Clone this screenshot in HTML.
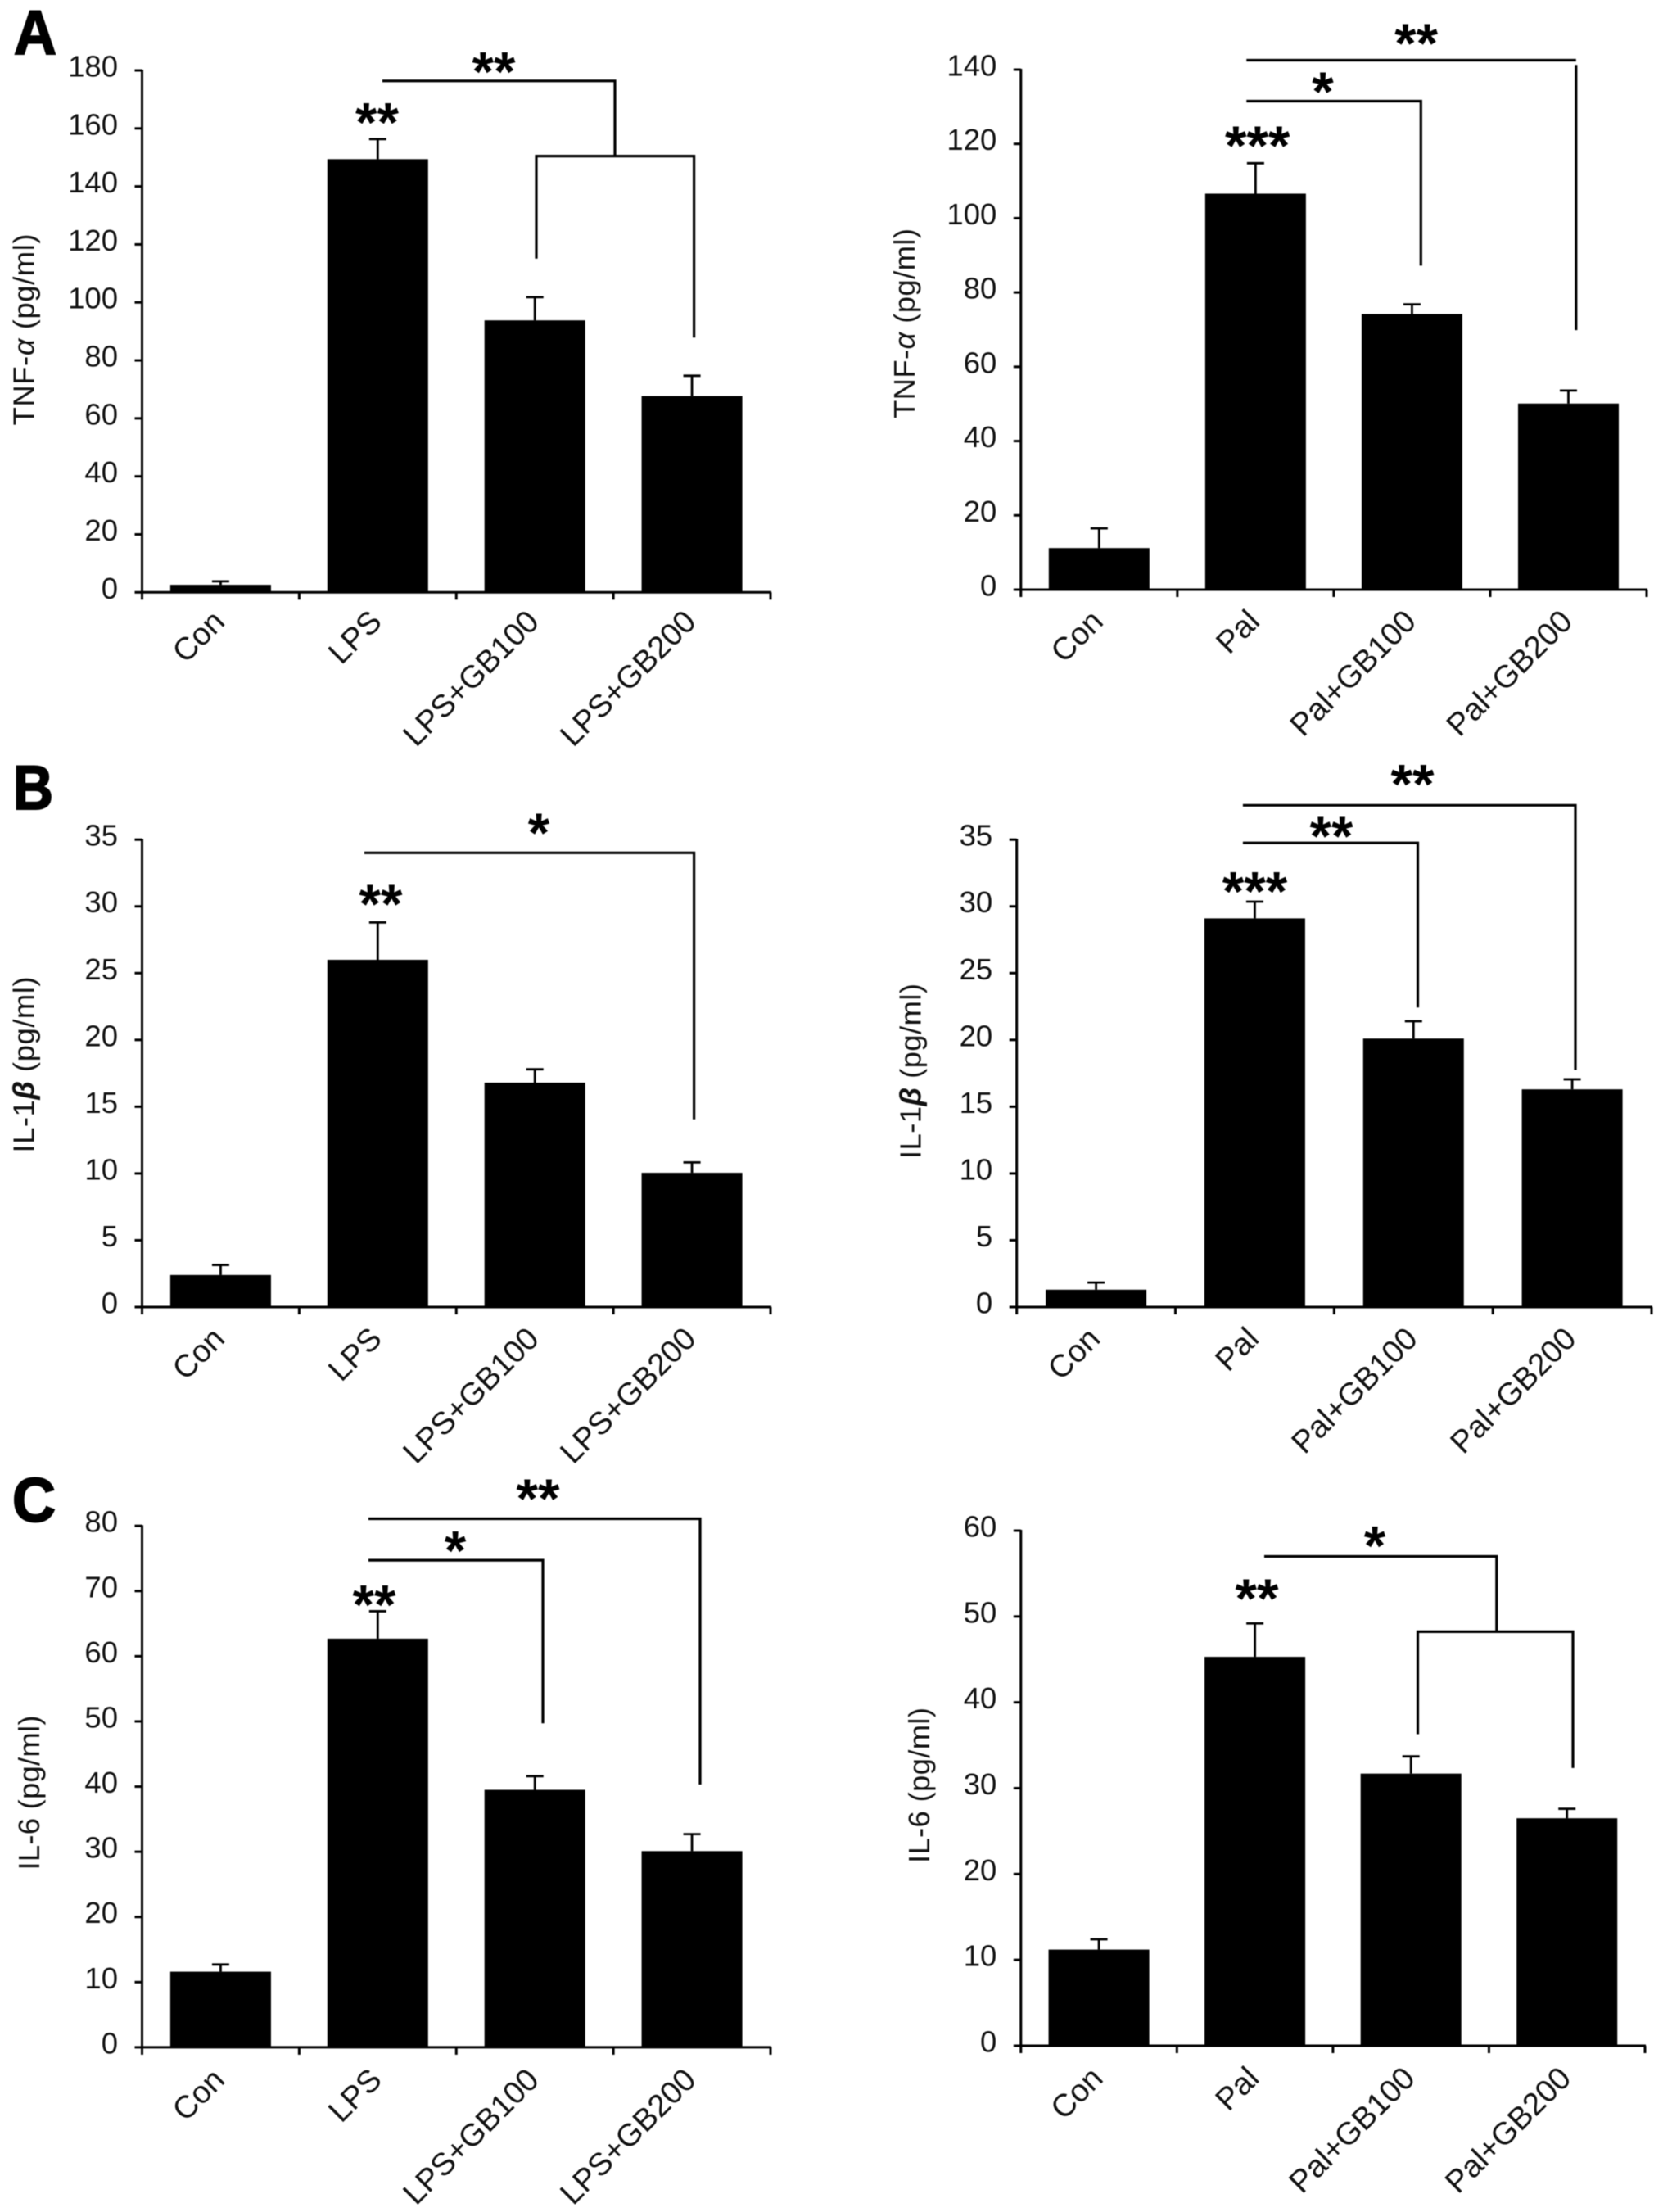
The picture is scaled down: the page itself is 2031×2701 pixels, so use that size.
<!DOCTYPE html>
<html>
<head>
<meta charset="utf-8">
<title>Cytokine levels bar charts</title>
<style>
html,body{margin:0;padding:0;background:#fff;width:2031px;height:2701px;overflow:hidden}
svg{display:block;filter:blur(.6px)}
text{font-family:"Liberation Sans",sans-serif;fill:#111}
.tick{font-size:36.500px}
.xlabel{font-size:38.500px}
.title{font-size:36.500px}
.stars{font-size:68px;font-weight:bold;text-anchor:middle;fill:#000}
.letter{font-size:76px;font-weight:bold;fill:#000;stroke:#000;stroke-width:2px}
.br{fill:none;stroke:#000;stroke-width:3.200}
</style>
</head>
<body>
<svg id="figure" xmlns="http://www.w3.org/2000/svg" width="2031" height="2701" viewBox="0 0 2031 2701">
  <rect width="2031" height="2701" fill="#fff"/>
  <text class="letter" x="17" y="66" textLength="52" lengthAdjust="spacingAndGlyphs">A</text>
  <text class="letter" x="16" y="988" textLength="49" lengthAdjust="spacingAndGlyphs">B</text>
  <text class="letter" x="15" y="1858" textLength="53" lengthAdjust="spacingAndGlyphs">C</text>

  <g id="charts"></g>

  <g>
    <path class="br" d="M467 98.800H751V190.600"/>
    <path class="br" d="M655 315.800V190.600H847.600V412.300"/>
    <text class="stars" x="603" y="110.500">**</text>
    <text class="stars" x="460.500" y="172.500">**</text>
  </g>
  <g>
    <path class="br" d="M1522.300 73.500H1924.800M1924.800 79.200V403.100"/>
    <path class="br" d="M1522.300 123.500H1735.300V324.400"/>
    <text class="stars" x="1729.600" y="76">**</text>
    <text class="stars" x="1615.500" y="135.200">*</text>
    <text class="stars" x="1535.700" y="200.800">***</text>
  </g>
  <g>
    <path class="br" d="M445 1041.300H847.600V1366.800"/>
    <text class="stars" x="658" y="1039.800">*</text>
    <text class="stars" x="465" y="1127.100">**</text>
  </g>
  <g>
    <path class="br" d="M1517.900 983.300H1924V1306.500"/>
    <path class="br" d="M1517.900 1029.200H1731.500V1230.200"/>
    <text class="stars" x="1725" y="980.700">**</text>
    <text class="stars" x="1626" y="1043.800">**</text>
    <text class="stars" x="1532.500" y="1111.600">***</text>
  </g>
  <g>
    <path class="br" d="M450 1854.500H855V2179"/>
    <path class="br" d="M450 1905.100H663V2104.300"/>
    <text class="stars" x="657" y="1853">**</text>
    <text class="stars" x="556" y="1916.300">*</text>
    <text class="stars" x="457" y="1982.300">**</text>
  </g>
  <g>
    <path class="br" d="M1544 1900.500H1827.800V1991.800"/>
    <path class="br" d="M1731.500 2117.500V1992.400H1921V2158.900"/>
    <text class="stars" x="1679" y="1910.500">*</text>
    <text class="stars" x="1535" y="1974.800">**</text>
  </g>
</svg>
<script>
// Categories
var lpsCategories = ["Con", "LPS", "LPS+GB100", "LPS+GB200"];
var palCategories = ["Con", "Pal", "Pal+GB100", "Pal+GB200"];

// Tick labels
var ticksTnfLps = [0, 20, 40, 60, 80, 100, 120, 140, 160, 180];
var ticksTnfPal = [0, 20, 40, 60, 80, 100, 120, 140];
var ticksIl1 = [0, 5, 10, 15, 20, 25, 30, 35];
var ticksIl6Lps = [0, 10, 20, 30, 40, 50, 60, 70, 80];
var ticksIl6Pal = [0, 10, 20, 30, 40, 50, 60];

// Series values (means) and error-bar heights, pg/ml
var tnfLpsMeans = [2.6, 149.4, 93.8, 67.7];
var tnfLpsErrors = [1.2, 6.9, 8.0, 7.0];
var tnfPalMeans = [11.2, 106.6, 74.2, 50.1];
var tnfPalErrors = [5.3, 8.2, 2.6, 3.5];
var il1LpsMeans = [2.4, 26.0, 16.8, 10.05];
var il1LpsErrors = [0.75, 2.8, 1.0, 0.78];
var il1PalMeans = [1.3, 29.1, 20.1, 16.3];
var il1PalErrors = [0.53, 1.25, 1.3, 0.75];
var il6LpsMeans = [11.6, 62.7, 39.5, 30.1];
var il6LpsErrors = [1.1, 4.2, 2.1, 2.6];
var il6PalMeans = [11.2, 45.3, 31.7, 26.5];
var il6PalErrors = [1.2, 3.9, 2.0, 1.1];

var NS = "http://www.w3.org/2000/svg";
var root = document.getElementById("charts");

function make(parent, tag, attrs, content) {
  var el = document.createElementNS(NS, tag);
  for (var k in attrs) el.setAttribute(k, attrs[k]);
  if (content !== undefined) el.textContent = content;
  parent.appendChild(el);
  return el;
}

function drawChart(cfg) {
  var n = cfg.categories.length;
  var yMax = cfg.ticks[cfg.ticks.length - 1];
  var band = (cfg.xEnd - cfg.x0) / n;
  var xScale = function (i) { return cfg.x0 + (i + 0.5) * band; };
  var yScale = function (v) { return cfg.yBase - (v / yMax) * (cfg.yBase - cfg.yTop); };

  var g = make(root, "g", {});
  
  

  cfg.means.forEach(function (v, i) {
    var cx = xScale(i);
    var errTop = yScale(v + cfg.errors[i]);
    var bar = make(g, "rect", {
      x: cx - 61.5, y: yScale(v), width: 123, height: cfg.yBase - yScale(v), fill: "#000"
    });
    
    
    var err = make(g, "path", {
      d: "M" + cx + " " + yScale(v) + "V" + errTop + "M" + (cx - 10.5) + " " + errTop + "H" + (cx + 10.5),
      fill: "none", stroke: "#000", "stroke-width": 2.8
    });
    
    
  });

  var yAxis = make(g, "line", {
    x1: cfg.x0, x2: cfg.x0, y1: cfg.yTop - 1, y2: cfg.yBase + 1, stroke: "#000", "stroke-width": 3
  });
  
  
  var xAxis = make(g, "line", {
    x1: cfg.x0 - 1, x2: cfg.xEnd + 1, y1: cfg.yBase, y2: cfg.yBase, stroke: "#000", "stroke-width": 3
  });
  
  

  cfg.ticks.forEach(function (t) {
    var y = yScale(t);
    var mark = make(g, "line", {
      x1: cfg.x0 - 9, x2: cfg.x0, y1: y, y2: y, stroke: "#000", "stroke-width": 3
    });
    
    
    var label = make(g, "text", {
      "class": "tick", x: cfg.x0 - 29.5, y: y + 7.5, "text-anchor": "end"
    }, String(t));
    
    
  });

  for (var i = 0; i <= n; i++) {
    var tx = cfg.x0 + i * band;
    var xMark = make(g, "line", {
      x1: tx, x2: tx, y1: cfg.yBase, y2: cfg.yBase + 9, stroke: "#000", "stroke-width": 3
    });
    
    
  }

  cfg.categories.forEach(function (c, i) {
    var ax = xScale(i) + 7;
    var ay = cfg.yBase + cfg.labelDrop;
    var xLabel = make(g, "text", {
      "class": "xlabel", x: ax, y: ay, "text-anchor": "end",
      transform: "rotate(-45 " + ax + " " + ay + ")"
    }, c);
    
    
  });

  var title = make(g, "text", {
    "class": "title", "text-anchor": "middle", x: cfg.titleX, y: cfg.titleY,
    textLength: cfg.titleLen, lengthAdjust: "spacing",
    transform: "rotate(-90 " + cfg.titleX + " " + cfg.titleY + ")"
  });
  
  
  make(title, "tspan", {}, cfg.titleParts[0]);
  make(title, "tspan", {
    "font-style": "italic", "font-weight": cfg.titleParts[3] ? "bold" : "normal"
  }, cfg.titleParts[1]);
  make(title, "tspan", {}, cfg.titleParts[2]);
}

drawChart({ id: "tnf-lps", categories: lpsCategories, ticks: ticksTnfLps, means: tnfLpsMeans, errors: tnfLpsErrors,
  x0: 173.5, xEnd: 941, yTop: 86, yBase: 723.3, labelDrop: 38,
  titleX: 41.5, titleY: 402.5, titleLen: 234, titleParts: ["TNF-", "\u03B1", " (pg/ml)", false] });
drawChart({ id: "tnf-pal", categories: palCategories, ticks: ticksTnfPal, means: tnfPalMeans, errors: tnfPalErrors,
  x0: 1246.8, xEnd: 2011, yTop: 85, yBase: 720, labelDrop: 41,
  titleX: 1117, titleY: 395, titleLen: 232, titleParts: ["TNF-", "\u03B1", " (pg/ml)", false] });
drawChart({ id: "il1-lps", categories: lpsCategories, ticks: ticksIl1, means: il1LpsMeans, errors: il1LpsErrors,
  x0: 173.5, xEnd: 941, yTop: 1025.2, yBase: 1596, labelDrop: 41,
  titleX: 41.5, titleY: 1300, titleLen: 215, titleParts: ["IL-1", "\u03B2", " (pg/ml)", true] });
drawChart({ id: "il1-pal", categories: palCategories, ticks: ticksIl1, means: il1PalMeans, errors: il1PalErrors,
  x0: 1241.7, xEnd: 2017, yTop: 1025.2, yBase: 1596, labelDrop: 41,
  titleX: 1124.4, titleY: 1308, titleLen: 214, titleParts: ["IL-1", "\u03B2", " (pg/ml)", true] });
drawChart({ id: "il6-lps", categories: lpsCategories, ticks: ticksIl6Lps, means: il6LpsMeans, errors: il6LpsErrors,
  x0: 173.5, xEnd: 941, yTop: 1863.2, yBase: 2499.9, labelDrop: 42,
  titleX: 48, titleY: 2189, titleLen: 189, titleParts: ["IL-6", "", " (pg/ml)", false] });
drawChart({ id: "il6-pal", categories: palCategories, ticks: ticksIl6Pal, means: il6PalMeans, errors: il6PalErrors,
  x0: 1246.8, xEnd: 2009, yTop: 1869, yBase: 2498, labelDrop: 42,
  titleX: 1135, titleY: 2180, titleLen: 190, titleParts: ["IL-6", "", " (pg/ml)", false] });
</script>
</body>
</html>
